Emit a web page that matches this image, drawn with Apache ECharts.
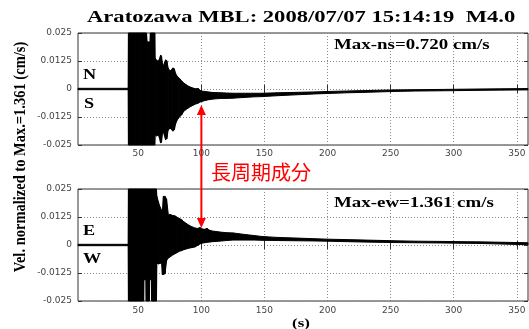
<!DOCTYPE html>
<html>
<head>
<meta charset="utf-8">
<script src="https://cdn.jsdelivr.net/npm/echarts@6/dist/echarts.min.js"></script>
<style>
  html, body { margin: 0; padding: 0; background: #fff; }
  #chart { width: 529px; height: 329px; }
</style>
</head>
<body>
<div id="chart"></div>
<script>
// time axis (s) and tick values
const X_MIN = 2.2
const X_MAX = 358.9
const X_TICKS = [50, 100, 150, 200, 250, 300, 350]
const Y_MIN = -0.025
const Y_MAX = 0.025
const Y_STEP = 0.0125

// NS component: upper / lower envelope of the trace
const NS_T = [2.2, 42.0, 42.2, 48, 52, 56.5, 57, 59.3, 59.6, 61.3, 63.0, 63.3, 64.5, 65.9, 66.8, 67.6, 68.4, 69.2, 69.8, 70.8,
  71.6, 72.6, 73.6, 75.1, 76.2, 77.4, 78.6, 79.4, 80.4, 81.6, 82.8, 84.4, 85.8, 87.2, 89.6, 91.5, 93.5, 95.5, 97.6, 99,
  100.2, 102.5, 105.5, 108, 111, 116, 120, 125, 130, 136, 142, 148, 160, 175, 190, 200, 215, 230, 252, 270,
  290, 305, 320, 340, 358.9]
const NS_HI = [0.0003, 0.0003, 0.03, 0.03, 0.03, 0.03, 0.021, 0.021, 0.03, 0.03, 0.03, 0.0138, 0.0128, 0.0124, 0.0135, 0.015, 0.0148, 0.011, 0.0103, 0.0118,
  0.013, 0.0126, 0.0095, 0.008, 0.0085, 0.0094, 0.009, 0.0072, 0.006, 0.0052, 0.0046, 0.0036, 0.0028, 0.0022, 0.0013, 0.0008, 0.0004, 0.0001, 0.0002, -0.0006,
  -0.0009, -0.0011, -0.0013, -0.0015, -0.0016, -0.0017, -0.0018, -0.0019, -0.0019, -0.0019, -0.0019, -0.0019, -0.0017, -0.0015, -0.0013, -0.0011, -0.0009, -0.0007, -0.0004, -0.0003,
  -0.0002, -0.0001, 0.0, 0.0001, 0.0002]
const NS_LO = [-0.0003, -0.0003, -0.03, -0.03, -0.03, -0.03, -0.03, -0.03, -0.03, -0.03, -0.03, -0.0204, -0.021, -0.0204, -0.022, -0.024, -0.0238, -0.0195, -0.019, -0.021,
  -0.0226, -0.0222, -0.0185, -0.0174, -0.018, -0.0188, -0.0182, -0.016, -0.0143, -0.0132, -0.0124, -0.0115, -0.0102, -0.0094, -0.0085, -0.0078, -0.0072, -0.0067, -0.0063, -0.0058,
  -0.0056, -0.0052, -0.0048, -0.0046, -0.0044, -0.0042, -0.0042, -0.0041, -0.0039, -0.0037, -0.0035, -0.0034, -0.003, -0.0026, -0.0022, -0.002, -0.0017, -0.0015, -0.0011, -0.0009,
  -0.0008, -0.0007, -0.0006, -0.0005, -0.0004]

// EW component
const EW_T = [2.2, 42.0, 42.2, 50, 54.2, 54.4, 56.1, 56.3, 58.7, 58.9, 60.3, 60.5, 64.4, 64.7, 65.8, 67.2, 68.5, 69.1, 69.9, 71.2,
  72.4, 73.8, 75.5, 77.2, 79.1, 80.8, 82.6, 84.4, 86, 87.8, 89.6, 92, 94.9, 97, 99, 100.2, 102.5, 104.5, 106.5, 109,
  112, 116, 120, 125, 130, 136, 142, 148, 160, 175, 190, 200, 215, 230, 252, 270, 290, 305, 320, 340,
  358.9]
const EW_HI = [0.0003, 0.0003, 0.03, 0.03, 0.03, 0.03, 0.03, 0.03, 0.03, 0.03, 0.03, 0.03, 0.03, 0.0217, 0.0195, 0.017, 0.0155, 0.015, 0.0217, 0.0217,
  0.0205, 0.0135, 0.0136, 0.0132, 0.013, 0.0124, 0.0118, 0.0113, 0.0104, 0.0097, 0.009, 0.0083, 0.0076, 0.0074, 0.0078, 0.0072, 0.007, 0.0074, 0.0066, 0.0062,
  0.006, 0.0057, 0.0055, 0.0054, 0.005, 0.0046, 0.0042, 0.0038, 0.0034, 0.0031, 0.0028, 0.0026, 0.0024, 0.0022, 0.0019, 0.0017, 0.0016, 0.0015, 0.0014, 0.0012,
  0.001]
const EW_LO = [-0.0003, -0.0003, -0.03, -0.03, -0.03, -0.0155, -0.0155, -0.03, -0.03, -0.0155, -0.0155, -0.03, -0.03, -0.008, -0.0085, -0.0082, -0.008, -0.0132, -0.0132, -0.0128,
  -0.007, -0.0058, -0.0052, -0.0045, -0.0039, -0.0034, -0.0028, -0.0025, -0.0021, -0.0018, -0.0015, -0.0012, -0.0009, -0.0002, 0.0005, 0.0008, 0.001, 0.0012, 0.0013, 0.0015,
  0.0016, 0.0018, 0.002, 0.0022, 0.0022, 0.0022, 0.0022, 0.0021, 0.002, 0.0019, 0.0018, 0.0017, 0.0015, 0.0013, 0.0011, 0.001, 0.0009, 0.0008, 0.0007, 0.0004,
  0.0001]

// where the red arrow points (t, value in each panel)
const ARROW_T = 100
const ARROW_NS = -0.0071
const ARROW_EW = 0.0076

const chart = echarts.init(document.getElementById('chart'), null, { renderer: 'canvas' })

const serif = '"Liberation Serif", "Times New Roman", serif'
const grids = [
  { left: 78, top: 33, width: 450, height: 112 },
  { left: 78, top: 189, width: 450, height: 112 }
]

const dotted = { color: '#8a8a8a', width: 1, type: [1, 2] }
const tickLine = { color: '#333', width: 1 }

// bottom (labelled) and top (ticks only) x axes, left (labelled) and right y axes per panel
const xAxes = []
const yAxes = []
grids.forEach((g, i) => {
  xAxes.push({
    type: 'value', gridIndex: i, min: X_MIN, max: X_MAX, position: 'bottom',
    axisLine: { show: false },
    axisTick: { show: true, inside: true, length: 4, customValues: X_TICKS, lineStyle: tickLine },
    axisLabel: {
      customValues: X_TICKS, color: '#444', fontSize: 9, fontFamily: 'DejaVu Sans',
      margin: i === 0 ? 4 : 5
    },
    splitLine: { show: true, lineStyle: dotted }
  })
  xAxes.push({
    type: 'value', gridIndex: i, min: X_MIN, max: X_MAX, position: 'top',
    axisLine: { show: false },
    axisTick: { show: true, inside: true, length: 4, customValues: X_TICKS, lineStyle: tickLine },
    axisLabel: { show: false },
    splitLine: { show: false }
  })
  yAxes.push({
    type: 'value', gridIndex: i, min: Y_MIN, max: Y_MAX, interval: Y_STEP, position: 'left',
    axisLine: { show: false },
    axisTick: { show: true, inside: true, length: 4, lineStyle: tickLine },
    axisLabel: {
      color: '#444', fontSize: 9, fontFamily: 'DejaVu Sans', margin: 6,
      formatter: v => String(+v.toFixed(4))
    },
    splitLine: { show: true, lineStyle: dotted }
  })
  yAxes.push({
    type: 'value', gridIndex: i, min: Y_MIN, max: Y_MAX, interval: Y_STEP, position: 'right',
    axisLine: { show: false },
    axisTick: { show: true, inside: true, length: 4, lineStyle: tickLine },
    axisLabel: { show: false },
    splitLine: { show: false }
  })
})

// trace drawn as a filled band between lower and upper envelope, one quad per step
const clampY = v => Math.max(Y_MIN, Math.min(Y_MAX, v))
const bandSeries = (name, t, lo, hi, axisIndex) => ({
  name: name, type: 'custom', xAxisIndex: axisIndex, yAxisIndex: axisIndex, silent: true,
  data: t.slice(0, -1).map((x, k) => [x, lo[k], hi[k], t[k + 1], lo[k + 1], hi[k + 1]]),
  encode: { x: [0, 3], y: [1, 2, 4, 5] },
  renderItem: (params, api) => {
    const pts = [
      api.coord([api.value(0), clampY(api.value(1))]),
      api.coord([api.value(0), clampY(api.value(2))]),
      api.coord([api.value(3), clampY(api.value(5))]),
      api.coord([api.value(3), clampY(api.value(4))])
    ]
    return {
      type: 'polygon', shape: { points: pts },
      style: { fill: '#000', stroke: '#000', lineWidth: 1 }
    }
  }
})

const label = (text, x, y, size, sx) => ({
  type: 'text', x: x, y: y, scaleX: sx || 1.3, silent: true,
  style: { text: text, fontFamily: serif, fontWeight: 'bold', fontSize: size, fill: '#000', align: 'left', verticalAlign: 'middle' }
})

chart.setOption({
  animation: false,
  backgroundColor: '#fff',
  grid: grids.map(g => Object.assign({
    show: true, borderColor: '#333', borderWidth: 1, backgroundColor: 'transparent', outerBoundsMode: 'none'
  }, g)),
  xAxis: xAxes,
  yAxis: yAxes,
  series: [
    bandSeries('ns', NS_T, NS_LO, NS_HI, 0),
    bandSeries('ew', EW_T, EW_LO, EW_HI, 2)
  ]
})

// annotations need pixel positions from the axes
const tipNs = chart.convertToPixel({ gridIndex: 0 }, [ARROW_T, ARROW_NS])
const tipEw = chart.convertToPixel({ gridIndex: 1 }, [ARROW_T, ARROW_EW])
const ax = tipNs[0]
const head = 10
const red = '#ff0000'

chart.setOption({
  graphic: [
    label('Aratozawa MBL: 2008/07/07 15:14:19  M4.0', 87, 18, 17, 1.33),
    label('N', 83, 75, 14, 1.3),
    label('S', 84, 104, 14, 1.3),
    label('E', 83, 231, 14, 1.3),
    label('W', 83, 259, 14, 1.3),
    label('Max-ns=0.720 cm/s', 334, 45, 14, 1.35),
    label('Max-ew=1.361 cm/s', 334, 203, 14, 1.35),
    label('(s)', 292, 324, 13, 1.3),
    {
      type: 'text', x: 20, y: 157, rotation: Math.PI / 2, scaleY: 1.2, silent: true,
      style: {
        text: 'Vel. normalized to Max.=1.361 (cm/s)', fontFamily: serif, fontWeight: 'bold',
        fontSize: 14.5, fill: '#000', align: 'center', verticalAlign: 'middle'
      }
    },
    {
      type: 'line', silent: true,
      shape: { x1: ax, y1: tipNs[1] + head - 2, x2: ax, y2: tipEw[1] - head + 2 },
      style: { stroke: red, lineWidth: 2 }
    },
    {
      type: 'polygon', silent: true,
      shape: { points: [[ax, tipNs[1]], [ax - 4.5, tipNs[1] + head], [ax + 4.5, tipNs[1] + head]] },
      style: { fill: red }
    },
    {
      type: 'polygon', silent: true,
      shape: { points: [[ax, tipEw[1]], [ax - 4.5, tipEw[1] - head], [ax + 4.5, tipEw[1] - head]] },
      style: { fill: red }
    },
    {
      type: 'text', x: 211, y: 172, silent: true,
      style: {
        text: '長周期成分', fontFamily: '"Noto Sans CJK JP", sans-serif', fontSize: 20,
        fill: red, align: 'left', verticalAlign: 'middle'
      }
    }
  ]
})
</script>
</body>
</html>
